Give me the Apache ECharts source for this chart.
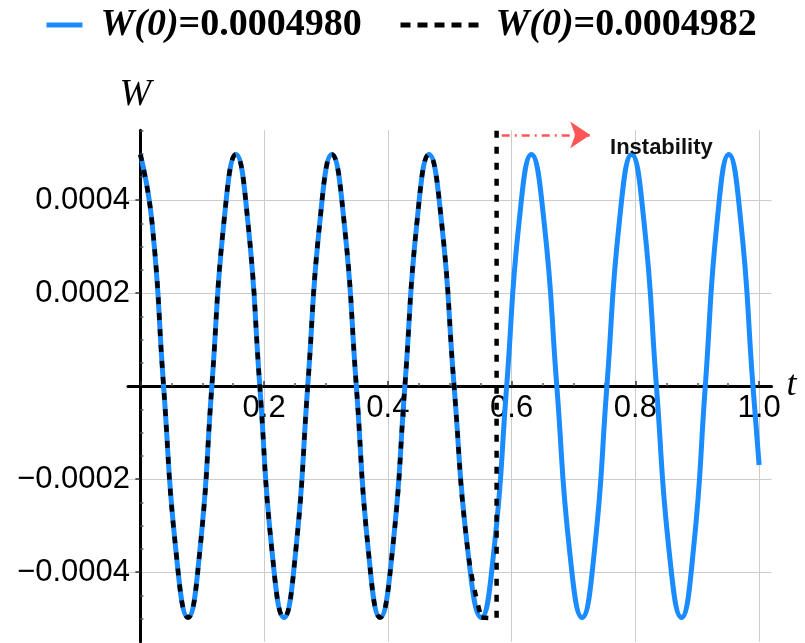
<!DOCTYPE html>
<html><head><meta charset="utf-8">
<script src="https://cdn.jsdelivr.net/npm/echarts@6/dist/echarts.min.js"></script>
<style>html,body{margin:0;padding:0;background:#fff}#c{width:805px;height:643px}</style>
</head><body><div id="c"></div>
<script>
// ---- data ----
const blueName = 'W(0)=0.0004980';
const dashName = 'W(0)=0.0004982';

const blueT = [0, 0.0188, 0.0375, 0.0573, 0.077, 0.0963, 0.1155, 0.135, 0.1545, 0.1738,
  0.193, 0.2125, 0.232, 0.2513, 0.2705, 0.29, 0.3095, 0.3293, 0.349, 0.3683,
  0.3875, 0.4075, 0.4275, 0.447, 0.4665, 0.4868, 0.507, 0.529, 0.551, 0.5715,
  0.592, 0.612, 0.632, 0.6525, 0.673, 0.6935, 0.714, 0.734, 0.754, 0.774,
  0.794, 0.814, 0.834, 0.8543, 0.8745, 0.8938, 0.913, 0.932, 0.951, 0.9705,
  0.990, 1.0];
const blueW = [0.000498, 0.000352, 0, -0.000352, -0.000498, -0.000352, 0, 0.000352, 0.000498, 0.000352,
  0, -0.000352, -0.000498, -0.000352, 0, 0.000352, 0.000498, 0.000352, 0, -0.000352,
  -0.000498, -0.000352, 0, 0.000352, 0.000498, 0.000352, 0, -0.000352, -0.000498, -0.000352,
  0, 0.000352, 0.000498, 0.000352, 0, -0.000352, -0.000498, -0.000352, 0, 0.000352,
  0.000498, 0.000352, 0, -0.000352, -0.000498, -0.000352, 0, 0.000352, 0.000498, 0.000352,
  0, -0.00017];

const dashT = [0, 0.0188, 0.0375, 0.0573, 0.077, 0.0963, 0.1155, 0.135, 0.1545, 0.1738,
  0.193, 0.2125, 0.232, 0.2513, 0.2705, 0.29, 0.3095, 0.3293, 0.349, 0.3683,
  0.3875, 0.4075, 0.4275, 0.447, 0.4665, 0.4868, 0.507, 0.529, 0.551];
const dashW = [0.000498, 0.000352, 0, -0.000352, -0.000498, -0.000352, 0, 0.000352, 0.000498, 0.000352,
  0, -0.000352, -0.000498, -0.000352, 0, 0.000352, 0.000498, 0.000352, 0, -0.000352,
  -0.000498, -0.000352, 0, 0.000352, 0.000498, 0.000352, 0, -0.000352, -0.000498];
// blow-up of the dashed solution
const jumpT = [0.551, 0.5757, 0.5757];
const jumpW = [-0.000498, -0.0005, 0.0007];

const xMajorTicks = [0, 0.2, 0.4, 0.6, 0.8, 1.0];
const xTickLabels = [0.2, 0.4, 0.6, 0.8, 1.0];
const xMinorTicks = [0.05, 0.1, 0.15, 0.25, 0.3, 0.35, 0.45, 0.5, 0.55, 0.65, 0.7, 0.75, 0.85, 0.9, 0.95];
const yMajorTicks = [-0.0004, -0.0002, 0.0002, 0.0004];
const yTickLabels = [-0.0004, -0.0002, 0.0002, 0.0004];
const yMinorTicks = [-0.0005, -0.00045, -0.00035, -0.0003, -0.00025, -0.00015, -0.0001, -0.00005,
  0.00005, 0.0001, 0.00015, 0.00025, 0.0003, 0.00035, 0.00045, 0.0005, 0.00055];

const noteText = 'Instability';

const zip = (a, b) => a.map((v, i) => [v, b[i]]);

const chart = echarts.init(document.getElementById('c'), null, {renderer: 'canvas'});
const legendRich = {
  i: {fontFamily: 'Liberation Serif', fontStyle: 'italic', fontWeight: 'bold', fontSize: 38, color: '#000'},
  b: {fontFamily: 'Liberation Serif', fontWeight: 'bold', fontSize: 38, color: '#000'}
};
const legendFmt = n => n.replace(/^(W\(0\))(.*)$/, '{i|$1}{b|$2}');

const XMIN = -0.02, XMAX = 1.02, YMIN = -0.00055, YMAX = 0.00055;
const axisFont = {fontFamily: 'Liberation Sans', fontSize: 31, color: '#000'};
// plot box
const G = {left: 128, right: 33.5, top: 130.25, bottom: 1.25};
const plotH = 643 - G.top - G.bottom;
// distance from the grid bottom edge up to the t axis (W = 0)
const zeroUp = plotH * (0 - YMIN) / (YMAX - YMIN);

chart.setOption({
  animation: false,
  backgroundColor: '#fff',
  grid: {...G, containLabel: false, outerBoundsMode: 'none'},
  legend: [
    {data: [blueName], left: 44, top: 6, padding: 0, itemWidth: 36, itemHeight: 14,
     itemStyle: {opacity: 0}, lineStyle: {width: 5},
     formatter: legendFmt, textStyle: {rich: legendRich, padding: [0, 0, 0, 13]}, selectedMode: false},
    {data: [dashName], left: 398, top: 6, padding: 0, itemWidth: 80, itemHeight: 14,
     itemStyle: {opacity: 0}, lineStyle: {width: 5, type: [10, 7]},
     formatter: legendFmt, textStyle: {rich: legendRich, padding: [0, 0, 0, 10]}, selectedMode: false}
  ],
  xAxis: [
    {type: 'value', min: XMIN, max: XMAX, position: 'bottom',
     axisLine: {onZero: true, onZeroAxisIndex: 0, lineStyle: {color: '#000', width: 3}},
     axisTick: {show: true, inside: true, length: 5, customValues: xMajorTicks, lineStyle: {color: '#333', width: 1.5}},
     axisLabel: {customValues: xTickLabels, margin: 7 - zeroUp, formatter: v => v.toFixed(1), ...axisFont},
     splitLine: {show: true, lineStyle: {color: '#cccccc', width: 1}},
     name: 't', nameLocation: 'end', nameGap: 14,
     nameTextStyle: {fontFamily: 'Liberation Serif', fontStyle: 'italic', fontSize: 36, color: '#000', verticalAlign: 'middle'}},
    {type: 'value', min: XMIN, max: XMAX, position: 'top',
     axisLine: {show: false, onZero: true, onZeroAxisIndex: 0},
     axisTick: {show: true, inside: false, length: 3, customValues: xMinorTicks, lineStyle: {color: '#555', width: 1.5}},
     axisLabel: {show: false}, splitLine: {show: false}}
  ],
  yAxis: [
    {type: 'value', min: YMIN, max: YMAX, position: 'left',
     axisLine: {onZero: true, onZeroAxisIndex: 0, lineStyle: {color: '#000', width: 3}},
     axisTick: {show: true, inside: false, length: 5, customValues: yMajorTicks, lineStyle: {color: '#333', width: 1.5}},
     axisLabel: {customValues: yTickLabels, margin: -2,
       formatter: v => (v < 0 ? '\u2212' : '') + Math.abs(v).toFixed(4), ...axisFont},
     splitLine: {show: true, lineStyle: {color: '#cccccc', width: 1}},
     name: 'W', nameLocation: 'end', nameGap: 16,
     nameTextStyle: {fontFamily: 'Liberation Serif', fontStyle: 'italic', fontSize: 38, color: '#000', padding: [0, 10, 0, 0]}},
    {type: 'value', min: YMIN, max: YMAX, position: 'right',
     axisLine: {show: false, onZero: true, onZeroAxisIndex: 0},
     axisTick: {show: true, inside: false, length: 3, customValues: yMinorTicks, lineStyle: {color: '#555', width: 1.5}},
     axisLabel: {show: false}, splitLine: {show: false}}
  ],
  series: [
    {name: blueName, type: 'line', data: zip(blueT, blueW), smooth: 0.5, symbol: 'none', clip: false,
     lineStyle: {color: '#1a8cff', width: 5, cap: 'butt'}, itemStyle: {color: '#1a8cff'}, z: 3,
     markLine: {silent: true, symbol: ['none', 'arrow'], symbolSize: 20,
       label: {show: false},
       lineStyle: {color: '#ff5555', width: 2.5, type: [8, 5, 2, 5]},
       data: [[{coord: [0.584, 0.00054]}, {coord: [0.727, 0.00054]}]]},
     markPoint: {silent: true, symbol: 'circle', symbolSize: 1, itemStyle: {color: 'rgba(0,0,0,0)'},
       data: [{coord: [0.842, 0.000512], value: 0}],
       label: {show: true, position: 'inside', formatter: noteText,
         fontFamily: 'Liberation Sans', fontWeight: 'bold', fontSize: 22, color: '#111'}}},
    {name: dashName, type: 'line', data: zip(dashT, dashW), smooth: 0.5, symbol: 'none',
     lineStyle: {color: '#000', width: 4.5, type: [7, 9], cap: 'butt'}, itemStyle: {color: '#000'}, z: 4},
    {name: dashName, type: 'line', data: zip(jumpT, jumpW), smooth: false, symbol: 'none',
     lineStyle: {color: '#000', width: 4.5, type: [7, 9], cap: 'butt'}, itemStyle: {color: '#000'}, z: 4}
  ]
});
</script></body></html>
